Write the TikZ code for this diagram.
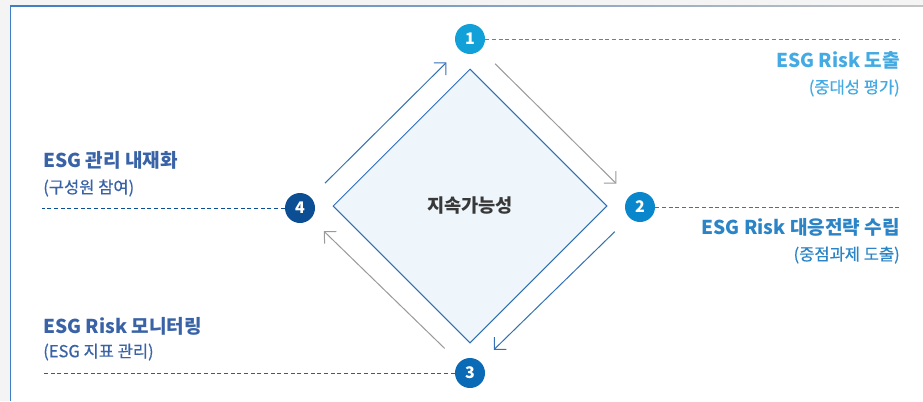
\documentclass[tikz,border=0pt]{standalone}
\usepackage{fontspec}
\setmainfont{Noto Sans CJK KR}
\newfontfamily\subfont[FakeBold=0.5]{Noto Sans CJK KR}
\usetikzlibrary{arrows.meta,shapes.geometric}

\definecolor{pagegray}{HTML}{F4F4F4}
\definecolor{frameblue}{HTML}{3F7DC4}
\definecolor{oneblue}{HTML}{12A0D8}
\definecolor{twoblue}{HTML}{0A87CC}
\definecolor{threeblue}{HTML}{0B6AB5}
\definecolor{fourblue}{HTML}{0C4E94}
\definecolor{titleone}{HTML}{43AAE3}
\definecolor{titletwo}{HTML}{2A84C6}
\definecolor{titleleft}{HTML}{3963A6}
\definecolor{diafill}{HTML}{EEF6FB}
\definecolor{diaedge}{HTML}{2E6DB5}
\definecolor{arrowblue}{HTML}{3470B5}
\definecolor{arrowgray}{HTML}{9A9A9A}

\begin{document}
\begin{tikzpicture}[x=0.75pt,y=-0.75pt,
    num/.style={circle,minimum size=22.5pt,inner sep=0pt,text=white,
      font=\bfseries\fontsize{12}{12}\selectfont},
    title/.style={inner sep=0pt,font=\bfseries\fontsize{14.3}{16}\selectfont},
    sub/.style={inner sep=0pt,font=\subfont\fontsize{12.4}{13}\selectfont},
    guide/.style={dashed,dash pattern=on 3pt off 2pt,line width=0.75pt},
    cycle/.style={line width=0.75pt,-{Straight Barb[length=6.4pt,width=12.8pt]},
      shorten <=15pt,shorten >=13.5pt}]
    % page and frame
    \useasboundingbox (0,0) rectangle (923,401);
    \fill[pagegray] (0,0) rectangle (923,401);
    \fill[white] (10,6) rectangle (923,401);
    \fill[left color=frameblue,right color=pagegray!80!black] (10,5) rectangle (923,6.6);
    \draw[frameblue,line width=1.2pt] (10.5,5) -- (10.5,401);

    % centre
    \node[diamond,draw=diaedge,fill=diafill,line width=0.75pt,minimum size=205.5pt,
      inner sep=0pt,font=\bfseries\fontsize{14}{15}\selectfont,text=black!78](core) at (470,206){지속가능성};

    % steps
    \node[num,fill=oneblue](n1) at (470,39){1};
    \node[num,fill=twoblue](n2) at (640,207){2};
    \node[num,fill=threeblue](n3) at (470,373){3};
    \node[num,fill=fourblue](n4) at (300,208){4};

    \draw[cycle,arrowblue] (n4) -- (n1);
    \draw[cycle,arrowgray] (n1) -- (n2);
    \draw[cycle,arrowblue] (n2) -- (n3);
    \draw[cycle,arrowgray] (n3) -- (n4);

    % guide lines
    \coordinate (e1) at (900,39);
    \coordinate (e2) at (900,207);
    \coordinate (e3) at (42,373);
    \coordinate (e4) at (42,208);
    \draw[guide,oneblue] (n1) -- (e1);
    \draw[guide,twoblue] (n2) -- (e2);
    \draw[guide,threeblue] (n3) -- (e3);
    \draw[guide,fourblue] (n4) -- (e4);

    % labels
    \node[title,text=titleone,anchor=east](t1) at (900,60){ESG Risk 도출};
    \node[sub,text=titleone,anchor=east](s1) at (900,88){(중대성 평가)};
    \node[title,text=titletwo,anchor=east](t2) at (900,227){ESG Risk 대응전략 수립};
    \node[sub,text=titletwo,anchor=east](s2) at (900,255){(중점과제 도출)};
    \node[title,text=titleleft,anchor=west](t4) at (43,160){ESG 관리 내재화};
    \node[sub,text=titleleft,anchor=west](s4) at (43,188){(구성원 참여)};
    \node[title,text=titleleft,anchor=west](t3) at (43,326){ESG Risk 모니터링};
    \node[sub,text=titleleft,anchor=west](s3) at (43,352){(ESG 지표 관리)};
\end{tikzpicture}
\end{document}
